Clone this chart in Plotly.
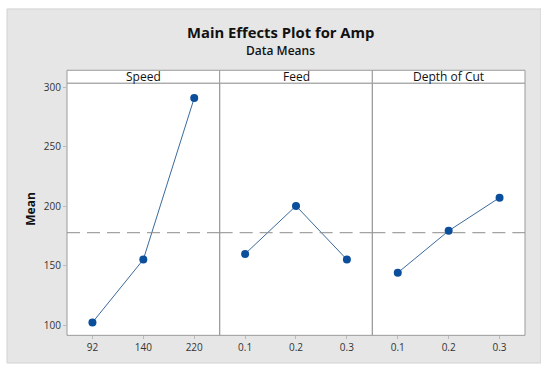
import plotly.graph_objects as go

W, H = 541, 366

factors = ["Speed", "Feed", "Depth of Cut"]
levels = [["92", "140", "220"], ["0.1", "0.2", "0.3"], ["0.1", "0.2", "0.3"]]
means = [[102.5, 155.3, 290.8], [160.0, 200.3, 155.3], [144.2, 179.4, 207.2]]
grand_mean = 177.8
y_ticks = [100, 150, 200, 250, 300]

# pixel layout
px_left, px_right = 67, 525
px_top, px_bottom = 80, 335
strip_top = 67

def fx(p):
    return p / W

def fy(p):
    return 1 - p / H

fig = go.Figure()
n = len(factors)
pw = (px_right - px_left) / n
shapes = []
annotations = []
for i, (fac, lev, m) in enumerate(zip(factors, levels, means)):
    x0 = px_left + i * pw
    x1 = x0 + pw
    xa = "x" if i == 0 else f"x{i+1}"
    fig.add_trace(go.Scatter(
        x=list(range(1, len(lev) + 1)), y=m, mode="lines+markers",
        line=dict(color="#3A6A9C", width=1),
        marker=dict(color="#0B4F9C", size=8),
        xaxis=xa, yaxis="y", showlegend=False, hoverinfo="skip"))
    axname = "xaxis" if i == 0 else f"xaxis{i+1}"
    fig.update_layout(**{axname: dict(
        domain=[fx(x0), fx(x1)], range=[0.5, len(lev) + 0.5],
        tickvals=list(range(1, len(lev) + 1)), ticktext=lev,
        showgrid=False, zeroline=False, showline=False,
        ticks="outside", ticklen=3, tickcolor="#BBBBBB",
        tickfont=dict(family="Open Sans", size=10, color="#333333"),
        anchor="y", fixedrange=True)})
    # grand mean line
    shapes.append(dict(type="line", xref=f"{xa} domain", yref="y",
                       x0=0, x1=1, y0=grand_mean, y1=grand_mean,
                       line=dict(color="#8C8C8C", width=1, dash="13px,7px")))
    # panel border
    shapes.append(dict(type="rect", xref="paper", yref="paper",
                       x0=fx(x0), x1=fx(x1), y0=fy(px_bottom), y1=fy(px_top),
                       line=dict(color="#9A9A9A", width=1)))
    # strip
    shapes.append(dict(type="rect", xref="paper", yref="paper",
                       x0=fx(x0), x1=fx(x1), y0=fy(px_top), y1=fy(strip_top),
                       fillcolor="white", line=dict(color="#9A9A9A", width=1)))
    annotations.append(dict(text=fac, xref="paper", yref="paper",
                            x=(fx(x0) + fx(x1)) / 2, y=(fy(px_top) + fy(strip_top)) / 2,
                            showarrow=False, xanchor="center", yanchor="middle",
                            font=dict(family="Open Sans", size=12, color="#111111")))

fig.update_layout(yaxis=dict(
    domain=[fy(px_bottom), fy(px_top)], range=[91.7, 303.3],
    tickvals=y_ticks, showgrid=False, zeroline=False, showline=False,
    ticks="outside", ticklen=3,
    tickcolor="#BBBBBB", anchor="x",
    tickfont=dict(family="Open Sans", size=10, color="#333333"),
    fixedrange=True))

# background panel
shapes.insert(0, dict(type="rect", xref="paper", yref="paper",
                      x0=fx(7), x1=fx(541), y0=fy(363), y1=fy(5),
                      fillcolor="#E6E6E6", line=dict(color="#D2D2D2", width=1),
                      layer="below"))
shapes.insert(1, dict(type="rect", xref="paper", yref="paper",
                      x0=fx(px_left), x1=fx(px_right), y0=fy(px_bottom), y1=fy(px_top),
                      fillcolor="white", line=dict(width=0), layer="below"))

annotations += [
    dict(text="<b>Main Effects Plot for Amp</b>", xref="paper", yref="paper",
         x=fx(280), y=fy(28), showarrow=False, xanchor="center", yanchor="middle",
         font=dict(family="Open Sans", size=14.8, color="#111111")),
    dict(text="Data Means", xref="paper", yref="paper",
         x=fx(280), y=fy(47), showarrow=False, xanchor="center", yanchor="middle",
         font=dict(family="Open Sans", size=12, color="#111111", weight=600)),
    dict(text="<b>Mean</b>", xref="paper", yref="paper",
         x=fx(31), y=fy(207), showarrow=False, xanchor="center", yanchor="middle",
         textangle=-90, font=dict(family="Open Sans", size=12, color="#111111")),
]

fig.update_layout(width=W, height=H, margin=dict(l=0, r=0, t=0, b=0),
                  paper_bgcolor="white", plot_bgcolor="rgba(0,0,0,0)",
                  shapes=shapes, annotations=annotations)
fig.write_html("out.html", config={"displayModeBar": False})
